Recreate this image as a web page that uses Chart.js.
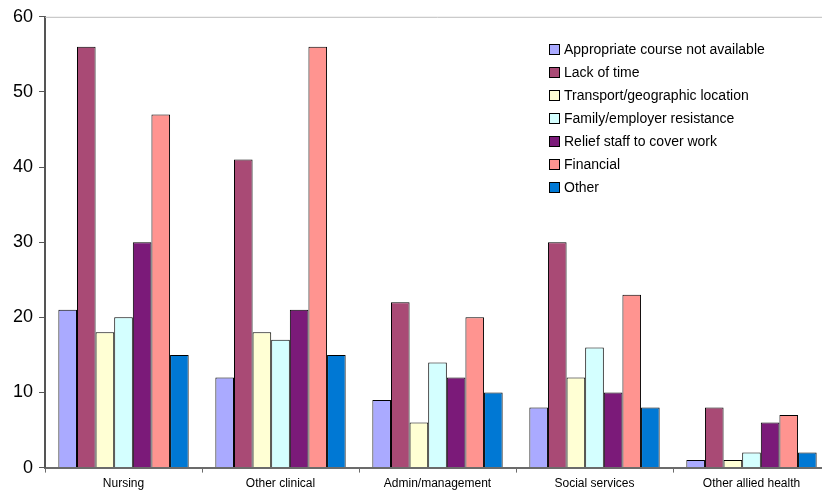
<!DOCTYPE html>
<html>
<head>
<meta charset="utf-8">
<script src="https://cdn.jsdelivr.net/npm/chart.js@4/dist/chart.umd.min.js"></script>
<style>
  html, body { margin: 0; padding: 0; background: #fff; overflow: hidden; }
  #wrap { width: 822px; height: 498px; overflow: hidden; }
  #box { width: 838px; height: 498px; }
</style>
</head>
<body>
<div id="wrap"><div id="box"><canvas id="barriers"></canvas></div></div>
<script>
const categories = ['Nursing', 'Other clinical', 'Admin/management', 'Social services', 'Other allied health'];

const courseNotAvailable = [21, 12, 9, 8, 1];
const lackOfTime         = [56, 41, 22, 30, 8];
const transport          = [18, 18, 6, 12, 1];
const familyEmployer     = [20, 17, 14, 16, 2];
const reliefStaff        = [30, 21, 12, 10, 6];
const financial          = [47, 56, 20, 23, 7];
const other              = [15, 15, 10, 8, 2];

const seriesNames = [
    'Appropriate course not available',
    'Lack of time',
    'Transport/geographic location',
    'Family/employer resistance',
    'Relief staff to cover work',
    'Financial',
    'Other'
];
const seriesValues = [courseNotAvailable, lackOfTime, transport, familyEmployer, reliefStaff, financial, other];
const seriesColors = ['#AAAAFF', '#A94A75', '#FFFFD4', '#D4FFFF', '#7B1A79', '#FF9490', '#0078D4'];

const yTicks = [0, 10, 20, 30, 40, 50, 60];

Chart.defaults.font.family = '"Liberation Sans", Arial, sans-serif';
Chart.defaults.color = '#000';

// legend drawn inside the plot area, top right
const innerLegend = {
    id: 'innerLegend',
    afterDraw(chart) {
        const ctx = chart.ctx;
        const x = 549, y0 = 49, step = 23, box = 10;
        ctx.save();
        ctx.font = '14px "Liberation Sans", Arial, sans-serif';
        ctx.textBaseline = 'middle';
        chart.data.datasets.forEach((ds, i) => {
            const y = y0 + i * step;
            ctx.fillStyle = ds.backgroundColor;
            ctx.fillRect(x + 0.5, y - box / 2 + 0.5, box, box);
            ctx.strokeStyle = '#000';
            ctx.lineWidth = 1;
            ctx.strokeRect(x + 0.5, y - box / 2 + 0.5, box, box);
            ctx.fillStyle = '#000';
            ctx.fillText(ds.label, x + 15, y + 1);
        });
        ctx.restore();
    }
};

// grey frame line along the top of the plot
const topLine = {
    id: 'topLine',
    beforeDatasetsDraw(chart) {
        const { ctx, chartArea } = chart;
        ctx.save();
        ctx.strokeStyle = '#BDBDBD';
        ctx.lineWidth = 1;
        ctx.beginPath();
        ctx.moveTo(chartArea.left, chartArea.top + 0.5);
        ctx.lineTo(chartArea.right, chartArea.top + 0.5);
        ctx.stroke();
        ctx.restore();
    }
};

new Chart(document.getElementById('barriers'), {
    type: 'bar',
    data: {
        labels: categories,
        datasets: seriesNames.map((name, i) => ({
            label: name,
            data: seriesValues[i],
            backgroundColor: seriesColors[i],
            borderColor: '#000',
            borderWidth: 1,
            borderSkipped: 'bottom',
            categoryPercentage: 0.83,
            barPercentage: 1.0
        }))
    },
    options: {
        responsive: true,
        maintainAspectRatio: false,
        animation: false,
        layout: { padding: { top: 4, right: 8, left: 7, bottom: 3 } },
        plugins: {
            legend: { display: false },
            tooltip: { enabled: false }
        },
        scales: {
            x: {
                grid: { drawOnChartArea: false, drawTicks: true, tickLength: 5, color: '#6B6B6B', offset: true },
                border: { color: '#6B6B6B', width: 2 },
                ticks: { font: { size: 12 }, padding: 4, maxRotation: 0 }
            },
            y: {
                min: 0,
                max: 60,
                afterBuildTicks(axis) {
                    axis.ticks = yTicks.map(v => ({ value: v }));
                },
                grid: { drawOnChartArea: false, drawTicks: true, tickLength: 6, color: '#555' },
                border: { color: '#555', width: 2 },
                ticks: { font: { size: 18 }, padding: 6 }
            }
        }
    },
    plugins: [topLine, innerLegend]
});
</script>
</body>
</html>
